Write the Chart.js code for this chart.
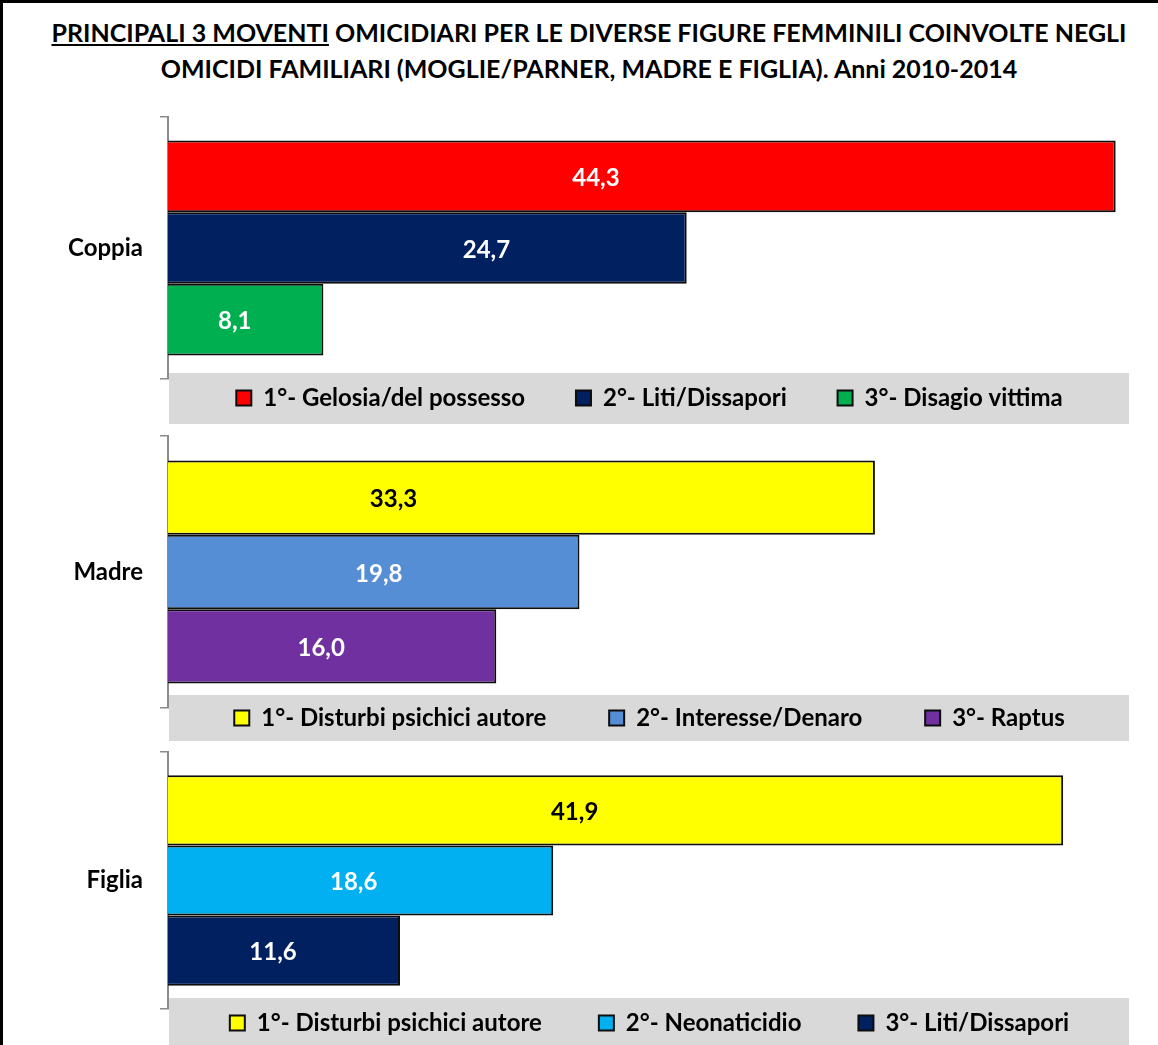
<!DOCTYPE html>
<html lang="it">
<head>
<meta charset="utf-8">
<script src="https://cdn.jsdelivr.net/npm/chart.js@4.4.1/dist/chart.umd.min.js"></script>
<style>
  html, body { margin: 0; padding: 0; background: #fff; }
  #frame {
    position: relative; width: 1158px; height: 1045px; overflow: hidden;
    box-sizing: border-box; border-top: 3px solid #000; border-left: 3px solid #000;
  }
  #title {
    position: absolute; left: 0; top: 11px; width: 1172px; text-align: center;
    font-family: Lato, sans-serif; font-weight: bold; font-size: 25px; line-height: 36px; color: #000;
  }
  canvas { position: absolute; left: -3px; }
</style>
</head>
<body>
<div id="frame">
  <div id="title"><u>PRINCIPALI 3 MOVENTI</u> OMICIDIARI PER LE DIVERSE FIGURE FEMMINILI COINVOLTE NEGLI<br>OMICIDI FAMILIARI (MOGLIE/PARNER, MADRE E FIGLIA). Anni 2010-2014</div>
  <canvas id="c0"></canvas>
  <canvas id="c1"></canvas>
  <canvas id="c2"></canvas>
</div>
<script>
// categories (one per panel)
const figures = ['Coppia', 'Madre', 'Figlia'];

// motives and percentages per figure
const coppiaMotives = ['1°- Gelosia/del possesso', '2°- Liti/Dissapori', '3°- Disagio vittima'];
const coppiaValues = [44.3, 24.7, 8.1];

const madreMotives = ['1°- Disturbi psichici autore', '2°- Interesse/Denaro', '3°- Raptus'];
const madreValues = [33.3, 19.8, 16.0];

const figliaMotives = ['1°- Disturbi psichici autore', '2°- Neonaticidio', '3°- Liti/Dissapori'];
const figliaValues = [41.9, 18.6, 11.6];

// value axis range
const axisMin = 1;
const axisMax = 45;

// styling
const FONT = 'Lato, "Open Sans", sans-serif';
const colors = [
  ['#FF0000', '#002060', '#00B050'],
  ['#FFFF00', '#558ED5', '#7030A0'],
  ['#FFFF00', '#00B0F0', '#002060']
];
// page positions of each panel: axis top/bottom, grey strip top/bottom, legend text centre,
// horizontal nudges (px) of the value labels as placed in the original, legend item spacer
const layout = [
  { axisTop: 117, axisBottom: 379, stripTop: 373, stripBottom: 424, legendY: 398, nudge: [-35, 70, 0], gap: '\u2003\u2003 ' },
  { axisTop: 436, axisBottom: 708, stripTop: 695, stripBottom: 741, legendY: 718, nudge: [-117, 16, 0], gap: '\u2003\u2003\u2002 ' },
  { axisTop: 752, axisBottom: 1009, stripTop: 998, stripBottom: 1048, legendY: 1023, nudge: [-30, 4, 0], gap: '\u2003\u2003\u2002' }
];

const panelData = [
  { motives: coppiaMotives, values: coppiaValues },
  { motives: madreMotives, values: madreValues },
  { motives: figliaMotives, values: figliaValues }
];

const LEGEND_PAD = 9;
const LEGEND_FONT = 24;
const AXIS_LEFT = 168;
const PLOT_RIGHT = 1131;
const CANVAS_W = 1158;

// grey band behind legend
const stripPlugin = {
  id: 'strip',
  beforeDraw(chart, args, opts) {
    const ctx = chart.ctx;
    ctx.save();
    ctx.fillStyle = '#D9D9D9';
    ctx.fillRect(AXIS_LEFT + 1, opts.top, PLOT_RIGHT - 2 - AXIS_LEFT - 1, opts.height);
    ctx.restore();
  }
};

// put legend row on the wanted line
const legendPlacePlugin = {
  id: 'legendPlace',
  afterLayout(chart, args, opts) {
    const lg = chart.legend;
    lg.top = opts.y - LEGEND_PAD - LEGEND_FONT / 2;
    lg.bottom = lg.top + 2 * LEGEND_PAD + LEGEND_FONT + 10;
  }
};

// value labels in each bar
const valueLabels = {
  id: 'valueLabels',
  afterDatasetsDraw(chart, args, opts) {
    const ctx = chart.ctx;
    ctx.save();
    ctx.font = 'bold 24px ' + FONT;
    ctx.textAlign = 'center';
    ctx.textBaseline = 'middle';
    chart.data.datasets.forEach((ds, i) => {
      const meta = chart.getDatasetMeta(i);
      meta.data.forEach((bar, j) => {
        const v = ds.data[j];
        ctx.fillStyle = ds.backgroundColor === '#FFFF00' ? '#000' : '#fff';
        ctx.fillText(v.toFixed(1).replace('.', ','), (bar.x + bar.base) / 2 + opts.nudge[i], bar.y + 2);
      });
    });
    ctx.restore();
  }
};

figures.forEach((fig, p) => {
  const L = layout[p];
  const canvasTop = L.axisTop - 10;
  const canvasBottom = Math.min(L.stripBottom, 1045);
  const canvas = document.getElementById('c' + p);
  canvas.width = CANVAS_W;
  canvas.height = canvasBottom - canvasTop;
  canvas.style.top = (canvasTop - 3) + 'px';

  const d = panelData[p];
  new Chart(canvas, {
    type: 'bar',
    data: {
      labels: [fig],
      datasets: d.motives.map((m, i) => ({
        label: m,
        data: [d.values[i]],
        backgroundColor: colors[p][i],
        borderColor: '#0d0d0d',
        borderWidth: 2,
        categoryPercentage: 0.82,
        barPercentage: 1.0
      }))
    },
    options: {
      indexAxis: 'y',
      responsive: false,
      animation: false,
      layout: {
        padding: { top: 10, left: 0, right: CANVAS_W - PLOT_RIGHT, bottom: canvasBottom - L.axisBottom - 10 }
      },
      scales: {
        x: { type: 'linear', min: axisMin, max: axisMax, display: false },
        y: {
          offset: true,
          grid: { offset: true, drawOnChartArea: false, tickLength: 8, color: '#8c8c8c', lineWidth: 1.5 },
          border: { display: true, color: '#8c8c8c', width: 2 },
          ticks: { color: '#000', padding: 17, font: { family: FONT, size: 24, weight: 'bold' } },
          afterFit(s) {
            s.width = AXIS_LEFT;
            s.paddingTop = 0;
            s.paddingBottom = 0;
          }
        }
      },
      plugins: {
        title: { display: false },
        tooltip: { enabled: false },
        strip: { top: L.stripTop - canvasTop, height: L.stripBottom - L.stripTop },
        legendPlace: { y: L.legendY - canvasTop },
        valueLabels: { nudge: L.nudge },
        legend: {
          display: true,
          position: 'bottom',
          fullSize: false,
          maxHeight: 10,
          labels: {
            color: '#000',
            boxWidth: 15,
            boxHeight: 15,
            padding: LEGEND_PAD,
            font: { family: FONT, size: LEGEND_FONT, weight: 'bold' },
            generateLabels(chart) {
              const items = Chart.defaults.plugins.legend.labels.generateLabels(chart);
              items.forEach((it, i) => {
                if (i < items.length - 1) it.text = it.text + L.gap;
              });
              return items;
            }
          }
        }
      }
    },
    plugins: [stripPlugin, legendPlacePlugin, valueLabels]
  });
});
</script>
</body>
</html>
